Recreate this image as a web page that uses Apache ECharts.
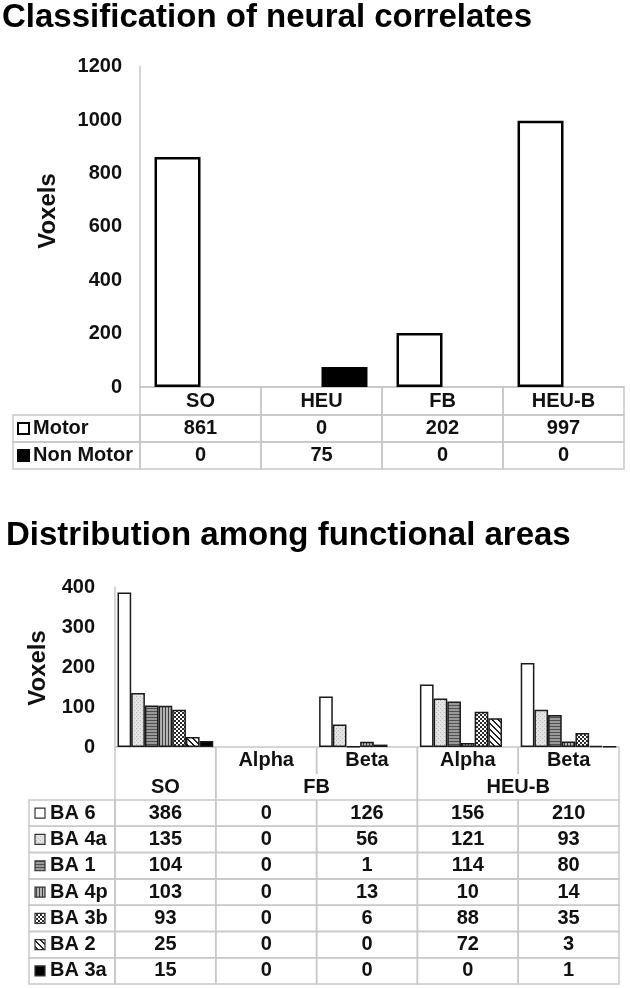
<!DOCTYPE html>
<html><head><meta charset="utf-8">
<script src="https://cdn.jsdelivr.net/npm/echarts@6/dist/echarts.min.js"></script>
<style>html,body{margin:0;padding:0;background:#fff}#c{width:630px;height:988px}</style>
</head><body><div id="c"></div>
<script>
// ---------- data ----------
const title1 = 'Classification of neural correlates';
const title2 = 'Distribution among functional areas';
const yName = 'Voxels';

const cats1 = ['SO', 'HEU', 'FB', 'HEU-B'];
const series1Names = ['Motor', 'Non Motor'];
const motor = [861, 0, 202, 997];
const nonMotor = [0, 75, 0, 0];
const y1Min = 0, y1Max = 1200, y1Interval = 200;

const cats2 = ['SO', 'FB Alpha', 'FB Beta', 'HEU-B Alpha', 'HEU-B Beta'];
const sub2 = ['', 'Alpha', 'Beta', 'Alpha', 'Beta'];
const group2 = ['SO', 'FB', 'FB', 'HEU-B', 'HEU-B'];
const series2Names = ['BA 6', 'BA 4a', 'BA 1', 'BA 4p', 'BA 3b', 'BA 2', 'BA 3a'];
const ba6 = [386, 0, 126, 156, 210];
const ba4a = [135, 0, 56, 121, 93];
const ba1 = [104, 0, 1, 114, 80];
const ba4p = [103, 0, 13, 10, 14];
const ba3b = [93, 0, 6, 88, 35];
const ba2 = [25, 0, 0, 72, 3];
const ba3a = [15, 0, 0, 0, 1];
const y2Min = 0, y2Max = 400, y2Interval = 100;

// ---------- styling ----------
const FF = '"Liberation Sans", Arial, Helvetica, sans-serif';
const TXT = '#111';
const GRID_C = '#c8c8c8';
function font(sz) { return 'bold ' + sz + 'px ' + FF; }

function pat(w, h, draw) {
  const c = document.createElement('canvas'); c.width = w; c.height = h;
  const g = c.getContext('2d'); draw(g, w, h);
  return { image: c, repeat: 'repeat' };
}
const fills1 = ['#ffffff', '#000000'];
const fills2 = [
  '#ffffff',
  pat(4, 4, g => { g.fillStyle = '#e4e4e4'; g.fillRect(0, 0, 4, 4); g.fillStyle = '#b8b8b8'; g.fillRect(0, 0, 1, 1); g.fillRect(2, 2, 1, 1); }),
  pat(1, 3, g => { g.fillStyle = '#9a9a9a'; g.fillRect(0, 0, 1, 3); g.fillStyle = '#505050'; g.fillRect(0, 0, 1, 1); }),
  pat(3, 1, g => { g.fillStyle = '#b4b4b4'; g.fillRect(0, 0, 3, 1); g.fillStyle = '#404040'; g.fillRect(0, 0, 1, 1); }),
  pat(4, 4, g => { g.fillStyle = '#2a2a2a'; g.fillRect(0, 0, 4, 4); g.fillStyle = '#ffffff'; g.fillRect(0, 0, 2, 2); g.fillRect(2, 2, 2, 2); }),
  pat(6, 6, g => { g.fillStyle = '#ffffff'; g.fillRect(0, 0, 6, 6); g.fillStyle = '#222'; for (let y = 0; y < 6; y++) for (let x = 0; x < 6; x++) if (((x - y + 6) % 6) < 2) g.fillRect(x, y, 1, 1); }),
  '#000000'
];

const HEAD1 = 28, ROW1 = 27, LABEL1_X = 13;
const HEAD2A = 27, HEAD2B = 26, ROW2 = 26.3, LABEL2_X = 29;

function vline(x, a, b) { return { type: 'line', shape: { x1: x, y1: a, x2: x, y2: b }, style: { stroke: GRID_C, lineWidth: 1.5 } }; }
function cellRect(x, y, w, h) { return { type: 'rect', shape: { x: x, y: y, width: w, height: h }, style: { fill: 'none', stroke: GRID_C, lineWidth: 1.5 } }; }
function cellText(t, x, y, align) { return { type: 'text', style: { text: t, x: x, y: y, align: align || 'center', verticalAlign: 'middle', font: font(20), fill: TXT } }; }

const rows1 = [motor, nonMotor];
const rows2 = [ba6, ba4a, ba1, ba4p, ba3b, ba2, ba3a];

const table1Data = [];
rows1.forEach((arr, r) => arr.forEach((v, c) => table1Data.push([c, r, v])));
const table2Data = [];
rows2.forEach((arr, r) => arr.forEach((v, c) => table2Data.push([c, r, v])));

function renderTable1(params, api) {
  const c = api.value(0), r = api.value(1), v = api.value(2);
  const p = api.coord([c, 0]); const bw = api.size([1, 0])[0];
  const x0 = p[0] - bw / 2, yb = p[1];
  const top = yb + HEAD1 + r * ROW1;
  const ch = [cellRect(x0, top, bw, ROW1), cellText(String(v), p[0], top + ROW1 / 2)];
  if (r === 0) ch.push(cellRect(x0, yb, bw, HEAD1));
  if (c === 0) {
    ch.push(cellRect(LABEL1_X, top, x0 - LABEL1_X, ROW1));
    ch.push({ type: 'rect', shape: { x: 18, y: top + ROW1 / 2 - 5.5, width: 11, height: 11 }, style: { fill: fills1[r], stroke: '#000', lineWidth: 2 } });
    ch.push(cellText(series1Names[r], 33, top + ROW1 / 2, 'left'));
  }
  return { type: 'group', children: ch };
}

function renderTable2(params, api) {
  const c = api.value(0), r = api.value(1), v = api.value(2);
  const p = api.coord([c, 0]); const bw = api.size([1, 0])[0];
  const x0 = p[0] - bw / 2, x1 = p[0] + bw / 2, yb = p[1];
  const dataTop = yb + HEAD2A + HEAD2B;
  const top = dataTop + r * ROW2;
  const ch = [cellRect(x0, top, bw, ROW2), cellText(String(v), p[0], top + ROW2 / 2)];
  if (r === 0) {
    ch.push(vline(x0, yb, yb + HEAD2A), vline(x1, yb, yb + HEAD2A));
    const first = c === 0 || group2[c - 1] !== group2[c];
    const last = c === cats2.length - 1 || group2[c + 1] !== group2[c];
    if (first) ch.push(vline(x0, yb + HEAD2A, dataTop));
    if (last) ch.push(vline(x1, yb + HEAD2A, dataTop));
    if (first) {
      let e = c; while (e + 1 < cats2.length && group2[e + 1] === group2[c]) e++;
      const xe = api.coord([e, 0])[0];
      ch.push(cellText(group2[c], (p[0] + xe) / 2, yb + HEAD2A + HEAD2B / 2));
    }
  }
  if (c === 0) {
    ch.push(cellRect(LABEL2_X, top, x0 - LABEL2_X, ROW2));
    ch.push({ type: 'rect', shape: { x: 35, y: top + ROW2 / 2 - 5, width: 10, height: 10 }, style: { fill: fills2[r], stroke: '#333', lineWidth: 1.2 } });
    ch.push(cellText(series2Names[r], 50, top + ROW2 / 2, 'left'));
  }
  return { type: 'group', children: ch };
}

function barData(arr) { return arr.map(v => v === 0 ? { value: v, itemStyle: { borderWidth: 0 } } : v); }

const axisLabelStyle = { fontSize: 20, fontWeight: 'bold', color: TXT, fontFamily: FF };

const series = [];
rows1.forEach((arr, i) => series.push({
  type: 'bar', name: series1Names[i], xAxisIndex: 0, yAxisIndex: 0, data: barData(arr),
  barGap: '0%', barCategoryGap: '24%',
  itemStyle: { color: fills1[i], borderColor: '#000', borderWidth: 2.5 }
}));
rows2.forEach((arr, i) => series.push({
  type: 'bar', name: series2Names[i], xAxisIndex: 1, yAxisIndex: 1, data: barData(arr),
  barGap: '0%', barCategoryGap: '5%',
  itemStyle: { color: fills2[i], borderColor: '#1a1a1a', borderWidth: 1.5 }
}));
series.push({ type: 'custom', xAxisIndex: 0, yAxisIndex: 0, clip: false, silent: true, encode: { x: 0, y: 1 }, data: table1Data, renderItem: renderTable1, z: 1 });
series.push({ type: 'custom', xAxisIndex: 1, yAxisIndex: 1, clip: false, silent: true, encode: { x: 0, y: 1 }, data: table2Data, renderItem: renderTable2, z: 1 });

const chart = echarts.init(document.getElementById('c'));
chart.setOption({
  animation: false,
  grid: [
    { left: 140, right: 6, top: 66.6, height: 320.4 },
    { left: 115, right: 11, top: 587, height: 160 }
  ],
  xAxis: [
    { gridIndex: 0, type: 'category', data: cats1, axisLine: { lineStyle: { color: GRID_C, width: 1.5 } }, axisTick: { show: false },
      axisLabel: Object.assign({ margin: 4, interval: 0, lineHeight: 20 }, axisLabelStyle) },
    { gridIndex: 1, type: 'category', data: cats2, axisLine: { lineStyle: { color: GRID_C, width: 1.5 } }, axisTick: { show: false },
      axisLabel: Object.assign({ margin: 3, interval: 0, lineHeight: 20, formatter: (v, i) => sub2[i] }, axisLabelStyle) }
  ],
  yAxis: [
    { gridIndex: 0, type: 'value', min: y1Min, max: y1Max, interval: y1Interval, axisLine: { show: true, lineStyle: { color: GRID_C, width: 1.5 } },
      axisTick: { show: false }, splitLine: { show: false }, axisLabel: Object.assign({ margin: 18, formatter: v => String(v) }, axisLabelStyle) },
    { gridIndex: 1, type: 'value', min: y2Min, max: y2Max, interval: y2Interval, axisLine: { show: true, lineStyle: { color: GRID_C, width: 1.5 } },
      axisTick: { show: false }, splitLine: { show: false }, axisLabel: Object.assign({ margin: 20, formatter: v => String(v) }, axisLabelStyle) }
  ],
  graphic: [
    { type: 'text', x: 2, y: 18, style: { text: title1, font: font(33), fill: '#000', align: 'left', verticalAlign: 'middle' } },
    { type: 'text', x: 6, y: 536, style: { text: title2, font: font(33), fill: '#000', align: 'left', verticalAlign: 'middle' } },
    { type: 'text', x: 48, y: 211, rotation: Math.PI / 2, style: { text: yName, font: font(24), fill: TXT, align: 'center', verticalAlign: 'middle' } },
    { type: 'text', x: 38, y: 668, rotation: Math.PI / 2, style: { text: yName, font: font(24), fill: TXT, align: 'center', verticalAlign: 'middle' } }
  ],
  series: series
});
</script>
</body></html>
